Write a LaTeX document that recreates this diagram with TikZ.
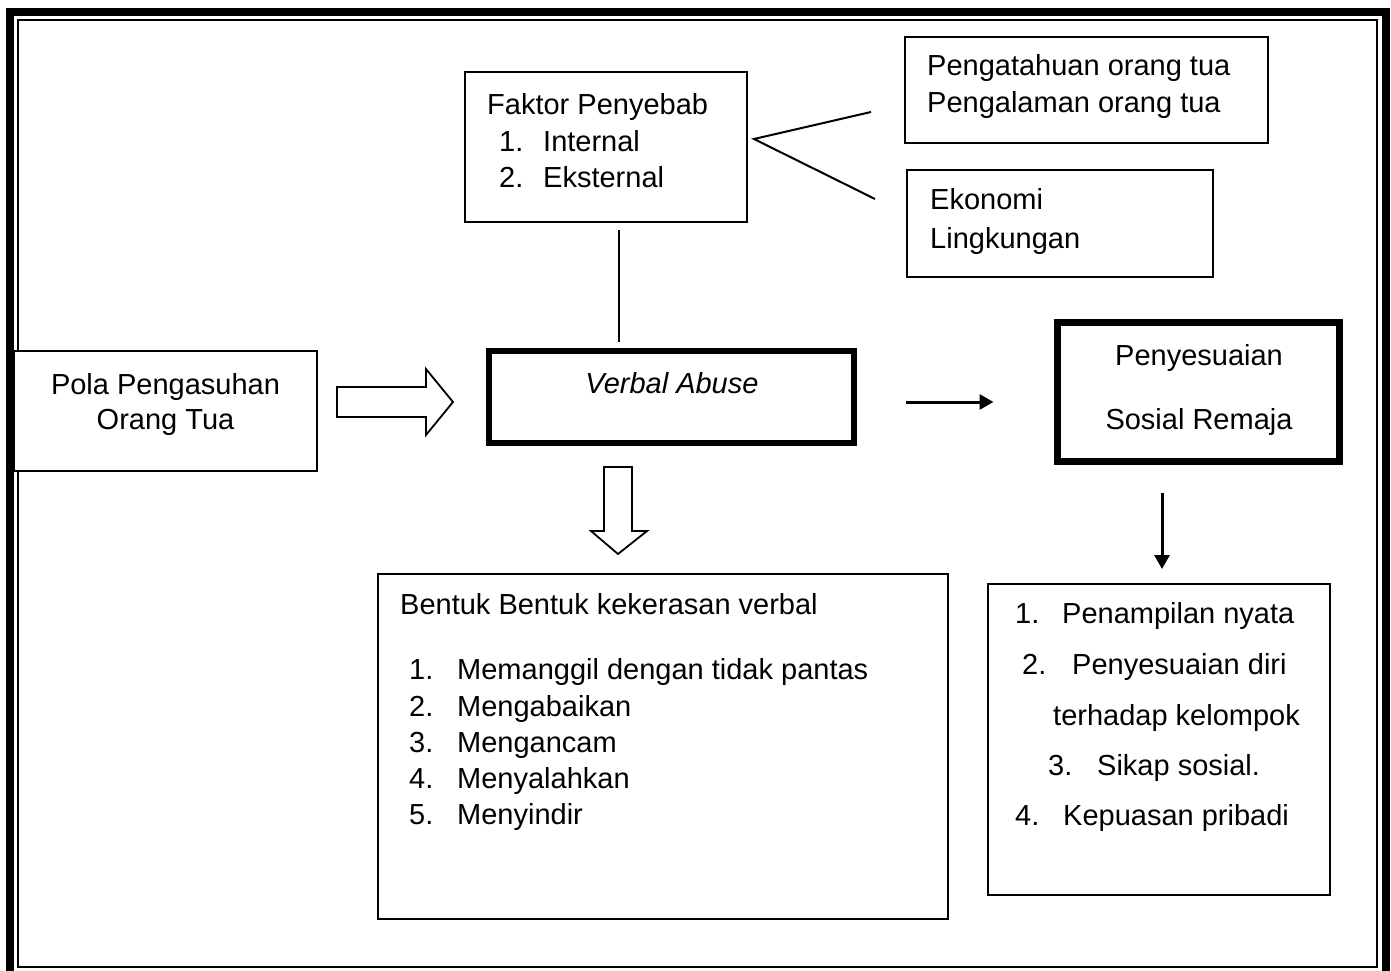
\documentclass[tikz,border=0pt]{standalone}
\usepackage{fontspec}
\setmainfont{Liberation Sans}
\usetikzlibrary{calc,arrows.meta}
\begin{document}
\begin{tikzpicture}[x=1pt,y=-1pt,
  box/.style={draw, line width=2pt, fill=white, inner sep=0pt, outer sep=0pt},
  boldbox/.style={draw, line width=6.5pt, fill=white, inner sep=0pt, outer sep=0pt},
  txt/.style={anchor=base west, inner sep=0pt, font=\fontsize{29}{35}\selectfont},
  ctxt/.style={anchor=base, inner sep=0pt, font=\fontsize{29}{35}\selectfont},
  conn/.style={line width=2pt},
  arr/.style={line width=3pt, -{Triangle[length=14pt,width=15pt]}},
  hollow/.style={draw, line width=1.8pt, fill=white, line join=miter}
]
\useasboundingbox (0,0) rectangle (1391,971);
% page border
\draw[line width=8.5pt] (10,12) rectangle (1386,980);
\draw[line width=2pt] (18,20) rectangle (1377,967);

% boxes
\node[box, minimum width=282pt, minimum height=150pt] (faktor) at (606,147) {};
\node[box, minimum width=363pt, minimum height=106pt] (peng) at (1086.5,90) {};
\node[box, minimum width=306pt, minimum height=107pt] (ekon) at (1060,223.5) {};
\node[box, minimum width=303pt, minimum height=120pt] (pola) at (165.5,411) {};
\node[boldbox, minimum width=365pt, minimum height=92pt] (verbal) at (671.5,397) {};
\node[boldbox, line width=7pt, minimum width=282pt, minimum height=139pt] (peny) at (1198.5,392) {};
\node[box, minimum width=570pt, minimum height=345pt] (bentuk) at (663,746.5) {};
\node[box, minimum width=342pt, minimum height=311pt] (aspek) at (1159,739.5) {};

% texts
\node[txt] (f0) at (487,114) {Faktor Penyebab};
\node[txt] (f1n) at (499,151) {1.};
\node[txt] (f1) at (543,151) {Internal};
\node[txt] (f2n) at (499,187) {2.};
\node[txt] (f2) at (543,187) {Eksternal};

\node[txt] (p1) at (927,76) {Pengatahuan orang tua};
\node[txt] (p2) at (927,113) {Pengalaman orang tua};

\node[txt] (e1) at (930,209) {Ekonomi};
\node[txt] (e2) at (930,248) {Lingkungan};

\node[ctxt] (pl1) at (165.5,394) {Pola Pengasuhan};
\node[ctxt] (pl2) at (165.5,429) {Orang Tua};

\node[ctxt] (va) at (672,393) {\itshape Verbal Abuse};

\node[ctxt] (ps1) at (1199,365) {Penyesuaian};
\node[ctxt] (ps2) at (1199,429) {Sosial Remaja};

\node[txt] (b0) at (400,614) {Bentuk Bentuk kekerasan verbal};
\node[txt] (b1n) at (409,679) {1.};
\node[txt] (b1) at (457,679) {Memanggil dengan tidak pantas};
\node[txt] (b2n) at (409,716) {2.};
\node[txt] (b2) at (457,716) {Mengabaikan};
\node[txt] (b3n) at (409,752) {3.};
\node[txt] (b3) at (457,752) {Mengancam};
\node[txt] (b4n) at (409,788) {4.};
\node[txt] (b4) at (457,788) {Menyalahkan};
\node[txt] (b5n) at (409,824) {5.};
\node[txt] (b5) at (457,824) {Menyindir};

\node[txt] (a1n) at (1015,623) {1.};
\node[txt] (a1) at (1062,623) {Penampilan nyata};
\node[txt] (a2n) at (1022,674) {2.};
\node[txt] (a2) at (1072,674) {Penyesuaian diri};
\node[txt] (a2b) at (1053,725) {terhadap kelompok};
\node[txt] (a3n) at (1048,775) {3.};
\node[txt] (a3) at (1097,775) {Sikap sosial.};
\node[txt] (a4n) at (1015,825) {4.};
\node[txt] (a4) at (1063,825) {Kepuasan pribadi};

% connectors
\draw[conn] ($(faktor.south)+(13,8)$) -- ($(verbal.north)+(-52.5,-9)$);
\coordinate (fork) at ($(faktor.east)+(7,-8)$);
\draw[conn] ($(peng.west)+(-34,22)$) -- (fork) -- ($(ekon.west)+(-32,-24.5)$);
\draw[arr] ($(verbal.east)+(52,5)$) -- ($(peny.west)+(-64,10)$);
\draw[arr] ($(peny.south)+(-36.5,31)$) -- ($(aspek.north)+(3,-15)$);

% hollow block arrows
\coordinate (h1) at ($(pola.east)+(20,-8)$);
\draw[hollow] (h1) ++(0,-16) -- ++(89,0) -- ++(0,-18) -- ++(27,33) -- ++(-27,33)
  -- ++(0,-18) -- ++(-89,0) -- cycle;
\coordinate (h2) at ($(verbal.south)+(-53.5,24)$);
\draw[hollow] (h2) ++(-14,0) -- ++(28,0) -- ++(0,64) -- ++(15,0) -- ++(-29,23)
  -- ++(-27,-23) -- ++(13,0) -- cycle;
\end{tikzpicture}
\end{document}
